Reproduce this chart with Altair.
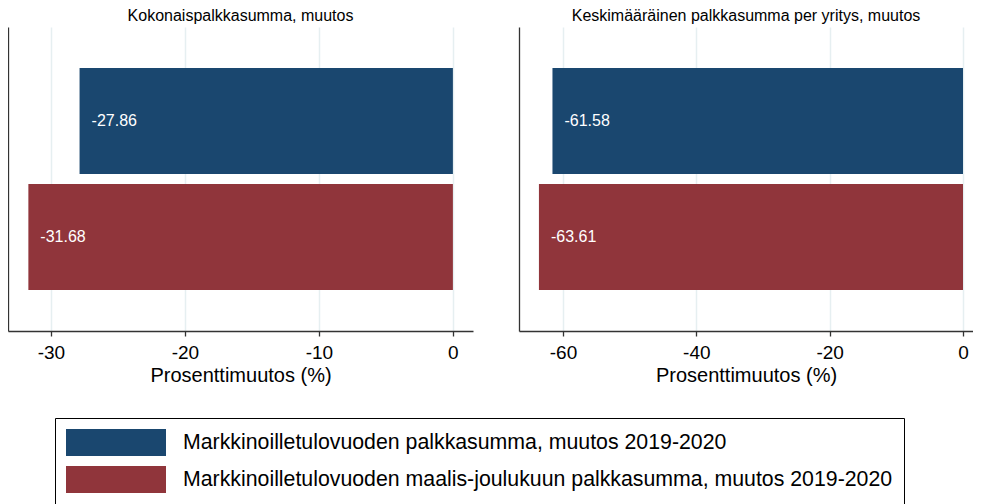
import altair as alt
import pandas as pd

panel_titles = ["Kokonaispalkkasumma, muutos", "Keskimääräinen palkkasumma per yritys, muutos"]
series = [
    "Markkinoilletulovuoden palkkasumma, muutos 2019-2020",
    "Markkinoilletulovuoden maalis-joulukuun palkkasumma, muutos 2019-2020",
]
values_total = [-27.86, -31.68]
values_avg = [-61.58, -63.61]
colors = ["#1a476f", "#90353b"]
x_domains = [[-33.2, 1.5], [-66.6, 1.5]]
x_ticks = [[-30, -20, -10, 0], [-60, -40, -20, 0]]
axis_title = "Prosenttimuutos (%)"

FONT = "Liberation Sans"

color_enc = alt.Color(
    "series:N",
    scale=alt.Scale(domain=series, range=colors),
    legend=alt.Legend(
        orient="none",
        legendX=47,
        legendY=391,
        direction="vertical",
        title=None,
        symbolType="M-1,-0.27L1,-0.27L1,0.27L-1,0.27Z",
        symbolSize=10000,
        symbolStrokeWidth=0,
        symbolOpacity=1,
        clipHeight=27,
        labelFontSize=21.3,
        labelFont=FONT,
        labelColor="black",
        labelOffset=17,
        labelLimit=0,
        strokeColor="black",
        padding=11,
        rowPadding=10,
    ),
)


def panel(title, vals, domain, ticks, width):
    df = pd.DataFrame(
        {"series": series, "value": vals, "label": [f"{v:.2f}" for v in vals]}
    )
    y = alt.Y(
        "series:N",
        sort=series,
        scale=alt.Scale(paddingInner=0.0862, paddingOuter=0.3534),
        axis=alt.Axis(labels=False, ticks=False, title=None, domain=True, grid=False),
    )
    x = alt.X(
        "value:Q",
        scale=alt.Scale(domain=domain, nice=False, zero=False),
        axis=alt.Axis(
            values=ticks,
            title=axis_title,
            grid=True,
            gridColor="#e6eff1",
            gridWidth=1.5,
            tickSize=5,
            labelFontSize=19,
            labelPadding=7,
            labelExpr="replace(datum.label, '\u2212', '-')",
            titleFontSize=20,
            titleFontWeight="normal",
            titlePadding=3,
        ),
    )
    base = alt.Chart(df)
    bars = base.mark_bar(opacity=1).encode(x=x, x2=alt.datum(0), y=y, color=color_enc)
    labels = base.mark_text(
        align="left", baseline="middle", dx=12, color="white", fontSize=16, font=FONT
    ).encode(x=alt.X("value:Q"), y=alt.Y("series:N", sort=series), text="label:N")
    return alt.layer(bars, labels).properties(
        width=width,
        height=304,
        title=alt.TitleParams(title, fontSize=16, fontWeight="normal", font=FONT, color="black", offset=3),
    )


left = panel(panel_titles[0], values_total, x_domains[0], x_ticks[0], 465)
right = panel(panel_titles[1], values_avg, x_domains[1], x_ticks[1], 454)

chart = (
    alt.hconcat(left, right, spacing=46)
    .properties(padding={"left": 0, "top": 0, "right": 0, "bottom": 0})
    .configure_view(stroke=None)
    .configure_axis(
        domainColor="#333333",
        domainWidth=1.3,
        tickColor="#333333",
        tickWidth=1.3,
        labelColor="black",
        titleColor="black",
        labelFont=FONT,
        titleFont=FONT,
    )
)

chart.save("out.html", embed_options={"renderer": "svg", "actions": False})
